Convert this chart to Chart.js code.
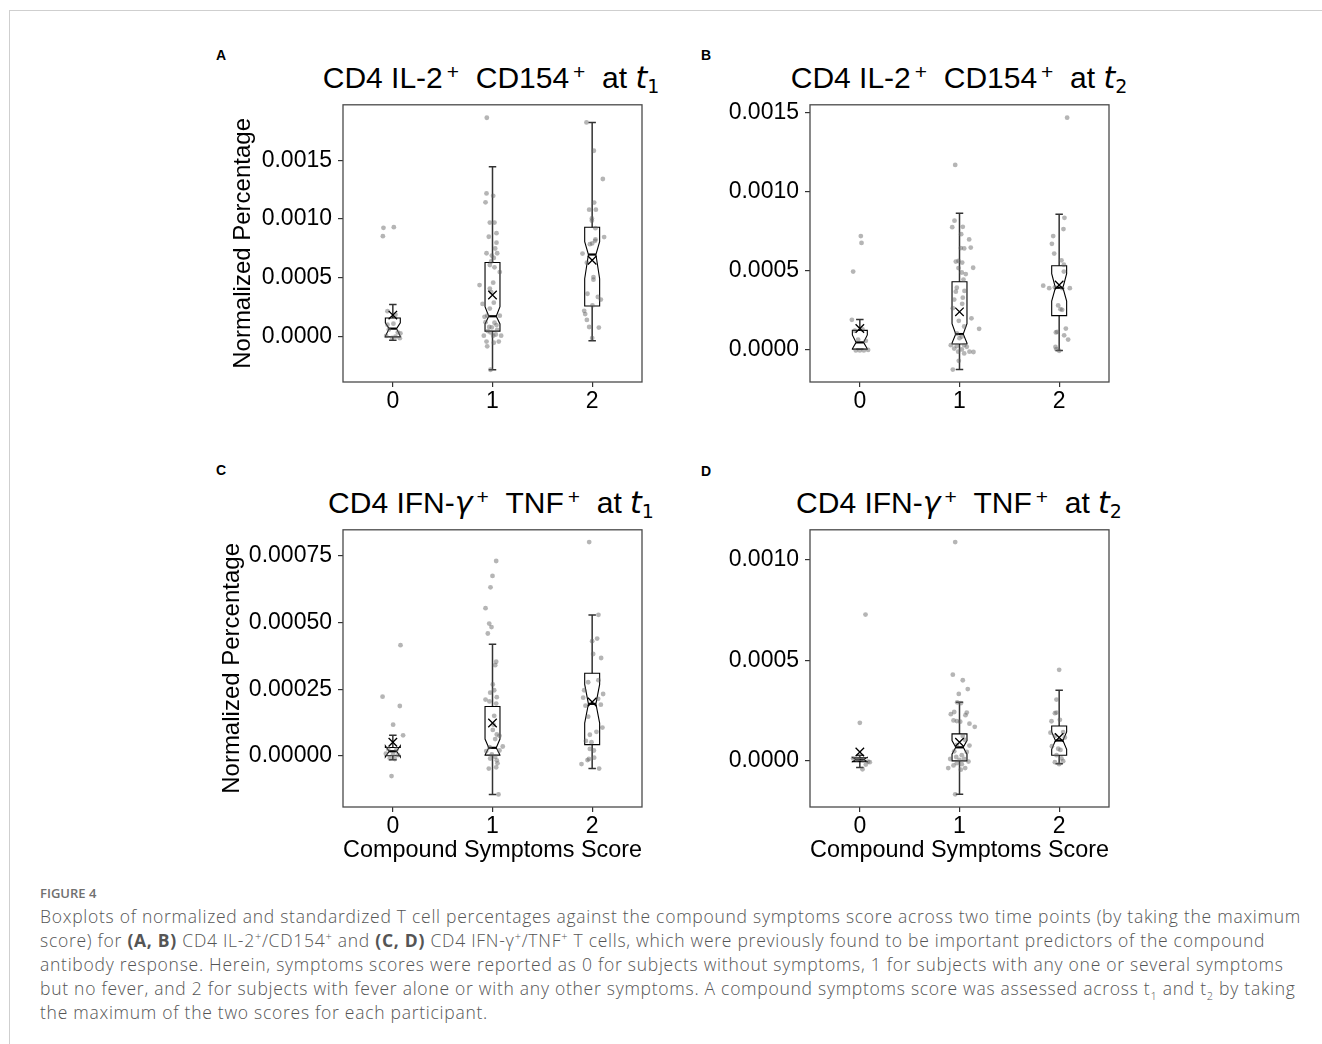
<!DOCTYPE html>
<html>
<head>
<meta charset="utf-8">
<script src="https://cdn.jsdelivr.net/npm/chart.js@4.4.0/dist/chart.umd.min.js"></script>
<style>
  body { margin: 0; background: #fff; width: 1322px; height: 1044px; position: relative; overflow: hidden;
         font-family: 'Liberation Sans', Arial, sans-serif; color: #000; }
  .edge { position: absolute; left: 9px; top: 10px; right: 0; bottom: 0;
          border-left: 1px solid #cfcfcf; border-top: 1px solid #cfcfcf; }
  canvas { position: absolute; }
  .tag { position: absolute; font: bold 14px/14px 'Liberation Sans', Arial, sans-serif; }
  .ttl { position: absolute; width: 500px; text-align: center; font-size: 30px; line-height: 32px; white-space: nowrap; }
  .sp { font-size: 21px; position: relative; top: -9px; padding-left: 4px; }
  .sb { font-family: 'DejaVu Sans', sans-serif; font-size: 19px; position: relative; top: 5px; }
  .it { font-family: 'DejaVu Sans', sans-serif; font-style: italic; }
  #figno { position: absolute; left: 40px; top: 885px; font: 600 13px/16px 'Open Sans', sans-serif; color: #707070; }
  #cap { position: absolute; left: 40px; top: 904px; font: 300 17.5px/24px 'Open Sans', sans-serif; color: #555; white-space: nowrap; }
  #cap span.ln { display: block; }
  #cap b { font-weight: 700; }
  #cap sup { font-size: 11px; line-height: 0; }
  #cap sub { font-size: 11px; line-height: 0; }
</style>
</head>
<body>
<div class="edge"></div>

<div class="tag" style="left:216px;top:48px">A</div>
<div class="tag" style="left:701px;top:48px">B</div>
<div class="tag" style="left:216px;top:463px">C</div>
<div class="tag" style="left:701px;top:464px">D</div>

<div class="ttl" style="left:241px;top:62px">CD4 IL-2<span class="sp">+</span>&nbsp; CD154<span class="sp">+</span>&nbsp; at <span class="it">t</span><span class="sb">1</span></div>
<div class="ttl" style="left:709px;top:62px">CD4 IL-2<span class="sp">+</span>&nbsp; CD154<span class="sp">+</span>&nbsp; at <span class="it">t</span><span class="sb">2</span></div>
<div class="ttl" style="left:241px;top:487px">CD4 IFN-<span class="it">γ</span><span class="sp">+</span>&nbsp; TNF<span class="sp">+</span>&nbsp; at <span class="it">t</span><span class="sb">1</span></div>
<div class="ttl" style="left:709px;top:487px">CD4 IFN-<span class="it">γ</span><span class="sp">+</span>&nbsp; TNF<span class="sp">+</span>&nbsp; at <span class="it">t</span><span class="sb">2</span></div>

<canvas id="cA"></canvas>
<canvas id="cB"></canvas>
<canvas id="cC"></canvas>
<canvas id="cD"></canvas>

<div id="figno">FIGURE 4</div>
<div id="cap">
<span class="ln" id="ln1">Boxplots of normalized and standardized T cell percentages against the compound symptoms score across two time points (by taking the maximum</span>
<span class="ln">score) for <b>(A, B)</b> CD4 IL-2<sup>+</sup>/CD154<sup>+</sup> and <b>(C, D)</b> CD4 IFN-γ<sup>+</sup>/TNF<sup>+</sup> T cells, which were previously found to be important predictors of the compound</span>
<span class="ln">antibody response. Herein, symptoms scores were reported as 0 for subjects without symptoms, 1 for subjects with any one or several symptoms</span>
<span class="ln">but no fever, and 2 for subjects with fever alone or with any other symptoms. A compound symptoms score was assessed across t<sub>1</sub> and t<sub>2</sub> by taking</span>
<span class="ln">the maximum of the two scores for each participant.</span>
</div>

<script>
// -----------------------------
// Data
// -----------------------------
const xTicks = [0, 1, 2];
const xLabels = ['0', '1', '2'];

const yTicksA = [0, 0.0005, 0.001, 0.0015];
const yLabelsA = ['0.0000', '0.0005', '0.0010', '0.0015'];
const yTicksB = [0, 0.0005, 0.001, 0.0015];
const yLabelsB = ['0.0000', '0.0005', '0.0010', '0.0015'];
const yTicksC = [0, 0.00025, 0.0005, 0.00075];
const yLabelsC = ['0.00000', '0.00025', '0.00050', '0.00075'];
const yTicksD = [0, 0.0005, 0.001];
const yLabelsD = ['0.0000', '0.0005', '0.0010'];

// per score group: [whiskerLo, q1, notchLo, median, notchHi, q3, whiskerHi, mean]
const statsA = [
  [-0.000028, 0.0, 0.000005, 0.00007, 0.00012, 0.00016, 0.000275, 0.000185],
  [-0.000279, 0.000049, 0.00011, 0.000175, 0.000257, 0.000631, 0.001445, 0.000355],
  [-0.000033, 0.000262, 0.000494, 0.000699, 0.000808, 0.000931, 0.00182, 0.00065]
];
const statsB = [
  [0.0, 0.0, 0.000002, 0.000043, 0.00009, 0.000119, 0.000188, 0.000131],
  [-0.000129, 0.000033, 0.000039, 0.000096, 0.000162, 0.000428, 0.000863, 0.000237],
  [-0.000008, 0.000213, 0.000305, 0.00039, 0.000479, 0.00053, 0.000857, 0.000407]
];
const statsC = [
  [-0.0000145, 0.0, -0.000004, 0.000017, 0.000038, 0.0000315, 0.000077, 0.000051],
  [-0.000145, 0.0000025, 0.000003, 0.00003, 0.000063, 0.000185, 0.000419, 0.000123],
  [-0.000048, 0.000042, 0.000123, 0.000195, 0.000268, 0.00031, 0.000528, 0.000202]
];
const statsD = [
  [-0.000034, -0.000005, -0.000006, 0.000005, 0.000016, 0.0000144, 0.000027, 0.000043],
  [-0.000168, -0.0000015, 0.000032, 0.000066, 0.0001, 0.000133, 0.00029, 0.000091],
  [-0.000016, 0.000027, 0.000056, 0.0001, 0.000143, 0.000172, 0.00035, 0.000115]
];

// individual subjects: [x jitter, value]
const ptsA0 = [[-0.094,0.000926],[0.01,0.000931],[-0.1,0.000855],[-0.054,0.000218],[0.026,0.000188],[0.006,0.000112],
  [-0.054,0.000103],[0.05,0.000038],[-0.067,0.000008],[0.026,0.000002],[0.07,-0.000011],[-0.007,-0.000008],[-0.04,0.000062],[0.076,0.00003]];
const ptsA1 = [[-0.057,0.00186],[-0.06,0.001218],[0.007,0.001197],[-0.07,0.001142],[-0.027,0.00097],[0.02,0.00097],
  [-0.037,0.00085],[0.04,0.00088],[0.04,0.0008],[0.027,0.00075],[-0.06,0.00071],[0.047,0.00071],[-0.007,0.00069],
  [0.013,0.00067],[-0.013,0.00064],[-0.027,0.00061],[0.02,0.00059],[0.073,0.00055],[-0.13,0.00044],[0.007,0.00046],
  [-0.027,0.00041],[-0.013,0.00038],[-0.1,0.00028],[0.013,0.00029],[-0.027,0.00024],[-0.08,0.00017],[-0.053,0.00018],
  [0.073,0.00018],[-0.07,0.000125],[0.02,0.00012],[0.04,0.0001],[-0.033,0.000084],[-0.007,0.00008],[0.047,0.00006],
  [-0.047,0.000049],[-0.02,0.000038],[0.033,0.00002],[0.007,0.00001],[0.087,0.00001],[-0.087,0.00001],[-0.06,-0.00004],
  [0.013,-0.00005],[0.063,-0.00004],[-0.053,-0.00008],[-0.02,-0.000279]];
const ptsA2 = [[-0.057,0.00182],[0.017,0.00158],[0.107,0.00134],[0.02,0.00114],[-0.03,0.00108],[0.037,0.00108],
  [-0.003,0.001005],[-0.003,0.000986],[0.033,0.000923],[0.12,0.000847],[-0.023,0.000787],[0.033,0.000828],[0.03,0.000815],
  [0.0,0.000793],[-0.097,0.000707],[-0.053,0.00063],[0.013,0.000508],[0.013,0.000486],[-0.047,0.000366],[0.057,0.000339],
  [0.087,0.000317],[0.003,0.000267],[-0.08,0.000221],[-0.07,0.000194],[-0.053,0.000144],[-0.03,0.000084],[0.067,0.000079],
  [0.0,-0.00001]];

const ptsB0 = [[0.01,0.000718],[0.017,0.000675],[-0.067,0.000493],[-0.08,0.000186],[-0.017,0.00006],[0.06,0.000053],
  [-0.04,-0.000008],[0.0,-0.000008],[0.04,-0.000008],[0.083,-0.000005],[-0.05,0.000117],[0.027,0.000125]];
const ptsB1 = [[-0.043,0.00117],[-0.05,0.000816],[-0.073,0.000775],[0.033,0.000777],[0.017,0.00073],[0.097,0.000697],
  [0.013,0.000642],[0.047,0.00064],[0.113,0.000645],[-0.037,0.000556],[-0.01,0.00056],[0.027,0.00055],[0.137,0.000517],
  [-0.01,0.000515],[0.023,0.000487],[0.063,0.000477],[0.04,0.000442],[-0.027,0.00039],[0.05,0.00037],[-0.037,0.000365],
  [0.033,0.000327],[-0.053,0.000315],[0.027,0.000288],[-0.067,0.00026],[0.12,0.000196],[-0.007,0.00018],[0.197,0.000129],
  [0.047,0.000144],[-0.027,0.0001],[0.023,0.00008],[0.0,0.00007],[-0.087,0.000025],[-0.027,0.00002],[0.047,0.000025],
  [0.073,0.000015],[-0.053,0.000004],[0.023,-0.000002],[0.1,-0.000016],[-0.013,-0.000016],[0.047,-0.000027],
  [0.14,-0.000018],[-0.007,-0.000074],[-0.067,-0.00013]];
const ptsB2 = [[0.08,0.00147],[0.053,0.000834],[0.043,0.000763],[-0.06,0.000718],[-0.073,0.000669],[-0.05,0.000607],
  [0.023,0.000564],[0.047,0.000536],[0.047,0.000493],[-0.16,0.000403],[-0.1,0.000387],[-0.043,0.000393],[0.03,0.000387],
  [0.107,0.000387],[-0.01,0.000278],[0.013,0.000254],[0.03,0.00025],[-0.02,0.00011],[-0.033,0.000106],[0.067,0.000131],
  [0.05,0.000088],[0.09,0.000061],[-0.037,0.000014],[-0.027,0.0],[0.0,-0.00001]];

const ptsC0 = [[0.077,0.000415],[-0.103,0.000222],[0.07,0.000187],[0.003,0.000117],[0.103,0.000077],[-0.013,-0.000076],
  [-0.047,0.000026],[0.037,0.000024],[-0.07,0.000008],[0.003,0.000006],[0.053,0.000003],[-0.03,-0.00001],[0.02,-0.000012]];
const ptsC1 = [[0.037,0.000731],[0.0,0.000675],[-0.02,0.000632],[-0.07,0.000554],[-0.033,0.000496],[-0.01,0.000483],
  [-0.047,0.000459],[0.037,0.000353],[0.027,0.00034],[0.003,0.000268],[0.017,0.000246],[-0.023,0.000237],[0.043,0.00022],
  [-0.07,0.000211],[-0.03,0.000204],[0.037,0.000196],[0.017,0.00015],[0.01,0.000117],[0.003,0.000097],[0.043,0.00008],
  [0.07,0.000075],[0.027,0.000063],[0.103,0.000035],[-0.03,0.000033],[-0.063,0.000018],[0.07,0.00002],[-0.007,0.000005],
  [0.027,-0.000004],[-0.023,-0.00001],[0.043,-0.000017],[-0.037,-0.000048],[0.037,-0.000043],[0.05,-0.000028],
  [0.06,-0.000145]];
const ptsC2 = [[-0.03,0.000802],[0.063,0.000529],[0.0,0.00043],[0.05,0.00044],[0.01,0.000382],[0.09,0.000367],
  [-0.04,0.000276],[0.063,0.000284],[-0.08,0.000246],[0.11,0.000232],[-0.09,0.000218],[0.06,0.000214],[-0.067,0.000188],
  [0.087,0.000192],[-0.04,0.000147],[0.103,0.000106],[0.043,0.00009],[-0.023,0.000079],[-0.063,0.000056],[-0.007,0.000051],
  [0.017,0.00002],[-0.023,0.000026],[-0.033,-0.000012],[-0.047,-0.000016],[0.02,-0.000007],[-0.107,-0.000031],
  [0.07,-0.000048]];

const ptsD0 = [[0.057,0.000727],[0.0,0.000188],[-0.067,0.000011],[-0.033,0.000005],[0.033,0.000003],[0.083,-0.000005],
  [0.06,-0.00002],[0.027,-0.000043],[-0.017,0.000008],[0.1,-0.000008]];
const ptsD1 = [[-0.043,0.001088],[-0.067,0.000428],[0.033,0.0004],[0.083,0.000356],[-0.007,0.000332],[-0.023,0.00029],
  [0.013,0.000286],[-0.087,0.000231],[-0.053,0.000242],[0.06,0.000226],[0.073,0.000239],[-0.06,0.0002],[-0.027,0.000197],
  [0.007,0.000194],[0.1,0.000184],[0.153,0.000168],[0.033,0.000123],[0.057,0.000103],[-0.027,0.000078],[0.1,0.000075],
  [-0.053,0.000046],[0.073,0.000043],[0.023,0.000027],[-0.033,0.000018],[-0.093,0.000008],[0.0,0.000003],[0.047,0.000008],
  [0.09,-0.000005],[-0.027,-0.000013],[0.023,-0.000018],[-0.06,-0.000024],[-0.113,-0.000037],[0.057,-0.000037],
  [0.013,-0.000045],[-0.043,-0.000168]];
const ptsD2 = [[0.0,0.000452],[-0.027,0.000304],[-0.043,0.000236],[-0.027,0.000239],[-0.077,0.000196],[0.007,0.000203],
  [-0.087,0.000139],[-0.043,0.000123],[0.04,0.000142],[0.057,0.000115],[-0.073,0.000072],[-0.01,0.000059],[0.013,0.000053],
  [-0.027,0.000027],[0.023,0.000011],[-0.043,-0.000008],[0.04,-0.000003],[0.0,-0.000018]];

// -----------------------------
// Caption: stretch lines to the page measure
// -----------------------------
const cap = document.getElementById('cap');
const ln1 = document.getElementById('ln1');
const w1 = ln1.getBoundingClientRect().width;
const chars = ln1.textContent.length;
cap.style.letterSpacing = ((1261 - w1) / chars).toFixed(3) + 'px';

// -----------------------------
// Notched box plugin
// -----------------------------
Chart.defaults.font.family = "'Liberation Sans', Arial, sans-serif";
Chart.defaults.color = '#000';

const notchBox = {
  id: 'notchBox',
  beforeDatasetsDraw(chart, args, opts) {
    const { ctx } = chart;
    const x = chart.scales.x, y = chart.scales.y;
    opts.stats.forEach((s, g) => {
      const [wLo, q1, nLo, med, nHi, q3, wHi] = s;
      const cx = x.getPixelForValue(g);
      const hw = x.getPixelForValue(g + opts.boxWidth / 2) - cx;
      const nw = hw / 2;
      const py = v => y.getPixelForValue(v);
      ctx.save();
      // whiskers + caps
      ctx.strokeStyle = '#333';
      ctx.lineWidth = 1.5;
      ctx.beginPath();
      ctx.moveTo(cx, py(q3)); ctx.lineTo(cx, py(wHi));
      ctx.moveTo(cx, py(q1)); ctx.lineTo(cx, py(wLo));
      ctx.moveTo(cx - nw, py(wHi)); ctx.lineTo(cx + nw, py(wHi));
      ctx.moveTo(cx - nw, py(wLo)); ctx.lineTo(cx + nw, py(wLo));
      ctx.stroke();
      // notched box
      ctx.strokeStyle = '#000';
      ctx.lineWidth = 1.1;
      ctx.beginPath();
      ctx.moveTo(cx - hw, py(q1));
      ctx.lineTo(cx + hw, py(q1));
      ctx.lineTo(cx + hw, py(nLo));
      ctx.lineTo(cx + nw, py(med));
      ctx.lineTo(cx + hw, py(nHi));
      ctx.lineTo(cx + hw, py(q3));
      ctx.lineTo(cx - hw, py(q3));
      ctx.lineTo(cx - hw, py(nHi));
      ctx.lineTo(cx - nw, py(med));
      ctx.lineTo(cx - hw, py(nLo));
      ctx.closePath();
      ctx.stroke();
      // median
      ctx.lineWidth = 2.2;
      ctx.beginPath();
      ctx.moveTo(cx - nw, py(med)); ctx.lineTo(cx + nw, py(med));
      ctx.stroke();
      ctx.restore();
    });
  },
  afterDraw(chart) {
    const { ctx, chartArea: a } = chart;
    ctx.save();
    ctx.strokeStyle = '#4a4a4a';
    ctx.lineWidth = 1.3;
    ctx.strokeRect(a.left, a.top, a.right - a.left, a.bottom - a.top);
    ctx.restore();
  }
};

// -----------------------------
// Panels
// -----------------------------
function makePanel(id, rect, groups, stats, yMin, yMax, yTicks, yLabels, yTitlePad, showX) {
  const cv = document.getElementById(id);
  cv.width = rect.r - rect.l + 160;
  cv.height = rect.b - rect.t + 95;
  cv.style.left = (rect.l - 150) + 'px';
  cv.style.top = (rect.t - 10) + 'px';

  const datasets = [{
    data: stats.map((s, g) => ({ x: g, y: s[7] })),
    pointStyle: 'crossRot',
    pointRadius: 6,
    borderColor: '#000',
    backgroundColor: '#000',
    borderWidth: 1.3
  }];
  groups.forEach((pts, g) => {
    datasets.push({
      data: pts.map(p => ({ x: g + p[0], y: p[1] })),
      pointRadius: 2.4,
      borderWidth: 0,
      backgroundColor: 'rgba(100,100,100,0.48)'
    });
  });

  const tickGrid = { drawOnChartArea: false, tickLength: 5, color: '#333', lineWidth: 1.2 };

  return new Chart(cv, {
    type: 'scatter',
    data: { datasets: datasets },
    options: {
      responsive: false,
      animation: false,
      events: [],
      layout: { padding: { top: 10, right: 10, left: 0, bottom: 0 } },
      plugins: {
        legend: { display: false },
        tooltip: { enabled: false },
        notchBox: { stats: stats, boxWidth: 0.15 }
      },
      scales: {
        x: {
          type: 'linear', min: -0.5, max: 2.5,
          afterBuildTicks: s => { s.ticks = xTicks.map(v => ({ value: v })); },
          afterFit: s => { s.height = 85; },
          ticks: { callback: (v, i) => xLabels[i], font: { size: 23 }, padding: 1, maxRotation: 0, autoSkip: false },
          grid: tickGrid,
          border: { display: false },
          title: { display: showX, text: 'Compound Symptoms Score', font: { size: 24 }, padding: { top: 0, bottom: 27 } }
        },
        y: {
          type: 'linear', min: yMin, max: yMax,
          afterBuildTicks: s => { s.ticks = yTicks.map(v => ({ value: v })); },
          afterFit: s => { s.width = 150; },
          ticks: { callback: (v, i) => yLabels[i], font: { size: 23 }, padding: 6, autoSkip: false },
          grid: tickGrid,
          border: { display: false },
          title: { display: yTitlePad !== null, text: 'Normalized Percentage', font: { size: 24 },
                   padding: { top: yTitlePad || 0, bottom: 0 } }
        }
      }
    },
    plugins: [notchBox]
  });
}

makePanel('cA', { l: 343, t: 95, r: 642, b: 382 }, [ptsA0, ptsA1, ptsA2], statsA,
  -0.000383, 0.00197, yTicksA, yLabelsA, 36, false);
makePanel('cB', { l: 810, t: 95, r: 1109, b: 382 }, [ptsB0, ptsB1, ptsB2], statsB,
  -0.0002086, 0.001552, yTicksB, yLabelsB, null, false);
makePanel('cC', { l: 343, t: 520, r: 642, b: 807 }, [ptsC0, ptsC1, ptsC2], statsC,
  -0.000192, 0.000848, yTicksC, yLabelsC, 25, true);
makePanel('cD', { l: 810, t: 520, r: 1109, b: 807 }, [ptsD0, ptsD1, ptsD2], statsD,
  -0.000231, 0.001149, yTicksD, yLabelsD, null, true);
</script>
</body>
</html>
